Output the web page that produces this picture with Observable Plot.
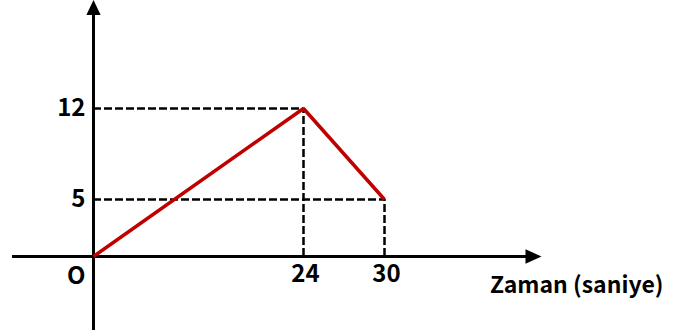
<!DOCTYPE html>
<html>
<head>
<meta charset="utf-8">
<script src="https://cdn.jsdelivr.net/npm/d3@7"></script>
<script src="https://cdn.jsdelivr.net/npm/@observablehq/plot@0.6"></script>
<style>
  html, body { margin: 0; padding: 0; background: #fff; }
  #chart svg { display: block; }
</style>
</head>
<body>
<div id="chart"></div>
<script>
// Data
const times = [0, 24, 30];          // Zaman (saniye)
const values = [0, 12, 5];          // value at each time
const xTickValues = [24, 30];
const xTickLabels = ["24", "30"];
const yTickValues = [12, 5];
const yTickLabels = ["12", "5"];
const originLabel = "O";
const xAxisLabel = "Zaman (saniye)";

const points = times.map((t, i) => ({t, v: values[i]}));
const fontFamily = "'Noto Sans CJK JP', 'Noto Sans', sans-serif";

// The reference drawing is schematic (not to scale): map values to drawing units
const xDraw = d3.scaleLinear().domain([0, 24, 30]).range([0, 210, 291]);
const yDraw = d3.scaleLinear().domain([0, 5, 12]).range([0, 57, 148]);

// Filled arrowheads as custom symbols
const arrowRight = {
  draw(ctx, size) {
    const r = Math.sqrt(size / Math.PI);
    ctx.moveTo(r, 0);
    ctx.lineTo(-r, -r * 0.9);
    ctx.lineTo(-r, r * 0.9);
    ctx.closePath();
  }
};
const arrowUp = {
  draw(ctx, size) {
    const r = Math.sqrt(size / Math.PI);
    ctx.moveTo(0, -r);
    ctx.lineTo(-r * 0.95, r);
    ctx.lineTo(r * 0.95, r);
    ctx.closePath();
  }
};

const hDashes = yTickValues.map((v) => ({y: v, x1: 0, x2: points.find((d) => d.v === v).t}));
const vDashes = xTickValues.map((t) => ({x: t, y1: 0, y2: points.find((d) => d.t === t).v}));

const chart = Plot.plot({
  width: 684,
  height: 336,
  marginLeft: 12,
  marginRight: 151,
  marginTop: 7,
  marginBottom: 6,
  style: {fontFamily, background: "#fff"},
  x: {axis: null, type: "linear", transform: xDraw, domain: [0, 291], range: [93, 384]},
  y: {axis: null, type: "linear", transform: yDraw, domain: [0, 148], range: [256, 108]},
  marks: [
    // dashed guide lines
    Plot.ruleY(hDashes, {
      y: "y", x1: "x1", x2: "x2", stroke: "#000", strokeWidth: 2.5, strokeDasharray: "8,3"
    }),
    Plot.ruleX(vDashes, {
      x: "x", y1: "y1", y2: "y2", stroke: "#000", strokeWidth: 2.5, strokeDasharray: "8,3"
    }),
    // axes
    Plot.ruleY([0], {stroke: "#000", strokeWidth: 3}),
    Plot.ruleX([0], {stroke: "#000", strokeWidth: 3}),
    Plot.dot([0], {y: (d) => d, frameAnchor: "right", symbol: arrowRight, r: 8, fill: "#000", stroke: null}),
    Plot.dot([0], {x: (d) => d, frameAnchor: "top", symbol: arrowUp, r: 7.5, fill: "#000", stroke: null}),
    // data line
    Plot.line(points, {x: "t", y: "v", stroke: "#c00000", strokeWidth: 3.5, strokeLinejoin: "miter", strokeLinecap: "butt"}),
    // tick labels
    Plot.text(yTickValues, {
      x: 0, y: (d) => d, text: (d, i) => yTickLabels[i], textAnchor: "end", dx: -8,
      fontSize: 24, fontWeight: "bold", fill: "#000"
    }),
    Plot.text(xTickValues, {
      x: (d) => d, y: 0, text: (d, i) => xTickLabels[i], dy: 18, dx: 2,
      fontSize: 24, fontWeight: "bold", fill: "#000"
    }),
    Plot.text([originLabel], {
      x: 0, y: 0, text: (d) => d, textAnchor: "end", dx: -8, dy: 20,
      fontSize: 24, fontWeight: "bold", fill: "#000"
    }),
    Plot.text([xAxisLabel], {
      y: 0, frameAnchor: "right", text: (d) => d, textAnchor: "end", dx: 130, dy: 29,
      fontSize: 23, fontWeight: "bold", fill: "#000"
    })
  ]
});
document.getElementById("chart").appendChild(chart);
</script>
</body>
</html>
